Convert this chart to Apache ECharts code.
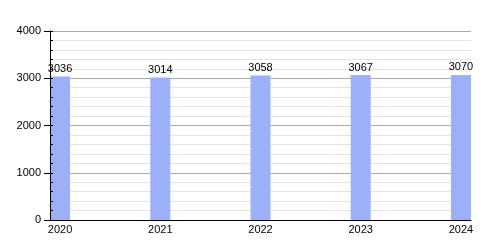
<!DOCTYPE html>
<html>
<head>
<meta charset="utf-8">
<script src="https://cdn.jsdelivr.net/npm/echarts@6/dist/echarts.min.js"></script>
<style>html,body{margin:0;padding:0;background:#fff}#c{width:500px;height:250px}</style>
</head>
<body>
<div id="c"></div>
<script>
const years = [2020, 2021, 2022, 2023, 2024];
const values = [3036, 3014, 3058, 3067, 3070];
const yTicks = [0, 1000, 2000, 3000, 4000];

const chart = echarts.init(document.getElementById('c'), null, {renderer: 'canvas'});
const font = 'Liberation Sans, Arial, sans-serif';
chart.setOption({
  animation: false,
  grid: {left: 50, right: 29, top: 31, bottom: 30, containLabel: false},
  xAxis: {
    type: 'value', min: 2019.9, max: 2024.1, z: 5,
    axisLine: {show: true, lineStyle: {color: '#000', width: 1}},
    axisTick: {show: false},
    splitLine: {show: false},
    axisLabel: {
      customValues: years, color: '#000', fontSize: 11, fontFamily: font, margin: 4,
      formatter: v => String(v), hideOverlap: false
    }
  },
  yAxis: [{
    type: 'value', min: yTicks[0], max: yTicks[yTicks.length - 1], interval: 1000,
    axisLine: {show: false},
    axisTick: {show: true, length: 6, lineStyle: {color: '#000'}},
    axisLabel: {color: '#000', fontSize: 11, fontFamily: font, margin: 9, formatter: v => String(v)},
    splitLine: {show: true, lineStyle: {color: '#aaaaaa', width: 1}},
    minorTick: {show: false},
    minorSplitLine: {show: true, lineStyle: {color: '#e4e4e4', width: 1}}
  }, {
    type: 'value', position: 'left', min: 0, max: 4000, interval: 200, z: 6,
    axisLine: {show: true, onZero: false, lineStyle: {color: '#000', width: 1}},
    axisTick: {show: true, inside: true, length: 3, lineStyle: {color: '#000'}},
    axisLabel: {show: false},
    splitLine: {show: false}
  }],
  series: [{
    type: 'bar',
    data: years.map((y, i) => [y, values[i]]),
    barWidth: 20,
    itemStyle: {color: '#9cb0fa'},
    label: {show: true, position: 'top', distance: 2, color: '#000', fontSize: 11, fontFamily: font}
  }]
});
</script>
</body>
</html>
